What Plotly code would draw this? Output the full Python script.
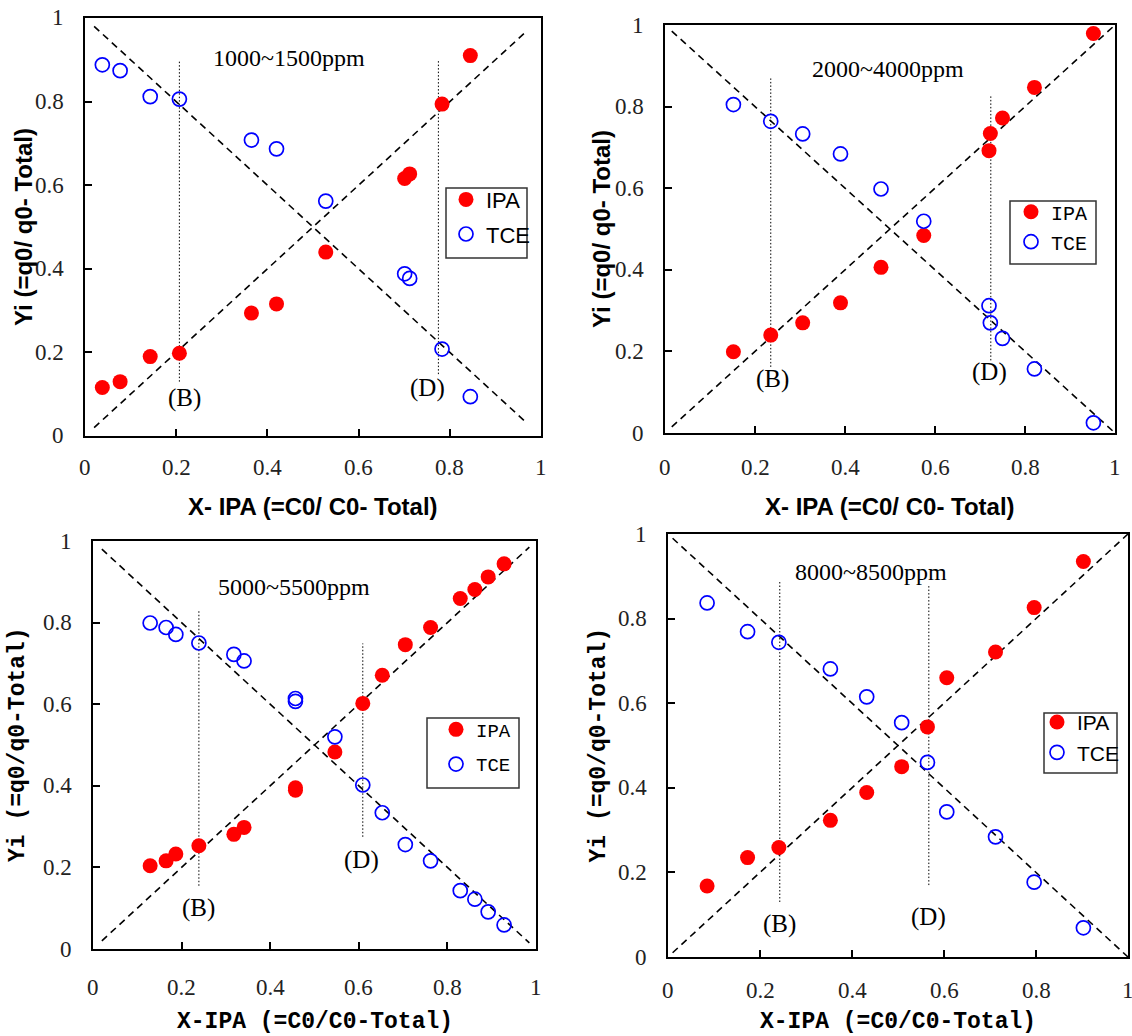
import plotly.graph_objects as go

# ---------------- data: adsorbed-phase fraction vs. gas-phase fraction ----------------
# panel 1 : 1000~1500 ppm
p1_x   = [0.038, 0.077, 0.143, 0.207, 0.365, 0.420, 0.528, 0.701, 0.712, 0.783, 0.845]
p1_ipa = [0.116, 0.130, 0.190, 0.198, 0.294, 0.316, 0.440, 0.616, 0.627, 0.794, 0.910]
p1_tce = [0.888, 0.874, 0.812, 0.806, 0.708, 0.687, 0.562, 0.388, 0.377, 0.208, 0.094]

# panel 2 : 2000~4000 ppm
p2_x   = [0.152, 0.235, 0.306, 0.390, 0.480, 0.575, 0.720, 0.723, 0.750, 0.821, 0.952]
p2_ipa = [0.199, 0.240, 0.270, 0.319, 0.406, 0.484, 0.692, 0.734, 0.772, 0.847, 0.979]
p2_tce = [0.805, 0.764, 0.733, 0.684, 0.598, 0.519, 0.312, 0.270, 0.232, 0.157, 0.025]

# panel 3 : 5000~5500 ppm
p3_x   = [0.129, 0.165, 0.187, 0.239, 0.318, 0.341, 0.457, 0.457, 0.546, 0.609,
          0.653, 0.705, 0.762, 0.829, 0.862, 0.892, 0.928]
p3_ipa = [0.204, 0.216, 0.233, 0.253, 0.281, 0.298, 0.389, 0.395, 0.483, 0.602,
          0.671, 0.746, 0.788, 0.859, 0.881, 0.912, 0.944]
p3_tce = [0.799, 0.788, 0.771, 0.750, 0.722, 0.706, 0.614, 0.607, 0.520, 0.402,
          0.334, 0.256, 0.216, 0.143, 0.122, 0.091, 0.059]

# panel 4 : 8000~8500 ppm
p4_x   = [0.085, 0.173, 0.241, 0.353, 0.432, 0.508, 0.564, 0.606, 0.712, 0.796, 0.903]
p4_ipa = [0.168, 0.235, 0.259, 0.323, 0.389, 0.450, 0.544, 0.660, 0.721, 0.826, 0.935]
p4_tce = [0.837, 0.769, 0.744, 0.681, 0.615, 0.554, 0.460, 0.343, 0.284, 0.177, 0.069]

range_labels = ["1000~1500ppm", "2000~4000ppm", "5000~5500ppm", "8000~8500ppm"]
tick_vals = [0, 0.2, 0.4, 0.6, 0.8, 1]
tick_text = ["0", "0.2", "0.4", "0.6", "0.8", "1"]

# breakthrough markers (B) and (D): x position of each dotted guide
b_x = [0.207, 0.235, 0.239, 0.243]
d_x = [0.775, 0.724, 0.609, 0.567]

# ---------------- layout helpers ----------------
W, H = 1132, 1036
SANS = "Liberation Sans"
SERIF = "Liberation Serif"
MONO = "Liberation Mono"

# frame of each panel in pixels: left, right, top, bottom
frames = [(85, 541, 18, 436), (665, 1115, 25, 433), (93, 536, 541, 949), (668, 1128, 534, 957)]

panels = [
    dict(x=p1_x, ipa=p1_ipa, tce=p1_tce, diag=(0.02, 0.97),
         bline=(0.13, 0.90), dline=(0.148, 0.898), blab=(0.219, 0.092), dlab=(0.75, 0.116),
         title_pos=(0.447, 0.904),
         legbox=(446, 188, 527, 258), legkey=(466, 207), legfont=SANS, legsize=22, leggap=3,
         titlefont=SANS, xt_y=507, yt_x=23, xlab_off=31,
         xtitle="X- IPA (=C0/ C0- Total)", ytitle="Yi (=q0/ q0- Total)"),
    dict(x=p2_x, ipa=p2_ipa, tce=p2_tce, diag=(0.015, 1.0),
         bline=(0.162, 0.869), dline=(0.178, 0.828), blab=(0.239, 0.133), dlab=(0.722, 0.150),
         title_pos=(0.496, 0.892),
         legbox=(1010, 201, 1096, 264), legkey=(1031, 218), legfont=MONO, legsize=20, leggap=1,
         titlefont=SANS, xt_y=507, yt_x=602, xlab_off=34,
         xtitle="X- IPA (=C0/ C0- Total)", ytitle="Yi (=q0/ q0- Total)"),
    dict(x=p3_x, ipa=p3_ipa, tce=p3_tce, diag=(0.02, 0.985),
         bline=(0.155, 0.830), dline=(0.275, 0.749), blab=(0.239, 0.100), dlab=(0.605, 0.218),
         title_pos=(0.454, 0.887),
         legbox=(427, 718, 519, 788), legkey=(456, 735), legfont=MONO, legsize=19, leggap=7,
         titlefont=MONO, xt_y=1022, yt_x=18, xlab_off=38,
         xtitle="X-IPA (=C0/C0-Total)", ytitle="Yi (=q0/q0-Total)"),
    dict(x=p4_x, ipa=p4_ipa, tce=p4_tce, diag=(0.01, 1.0),
         bline=(0.130, 0.891), dline=(0.170, 0.878), blab=(0.243, 0.077), dlab=(0.567, 0.095),
         title_pos=(0.441, 0.910),
         legbox=(1044, 713, 1117, 773), legkey=(1057, 729), legfont=SANS, legsize=21, leggap=0,
         titlefont=MONO, xt_y=1022, yt_x=598, xlab_off=33,
         xtitle="X-IPA (=C0/C0-Total)", ytitle="Yi (=q0/q0-Total)"),
]

fig = go.Figure()
annotations = []
shapes = []
layout = dict(
    template="none",
    width=W, height=H,
    margin=dict(l=0, r=0, t=0, b=0, pad=0),
    paper_bgcolor="white", plot_bgcolor="white",
    showlegend=True,
)

tick_font = dict(family=SERIF, size=23, color="#222")

for i, (p, fr, label) in enumerate(zip(panels, frames, range_labels)):
    n = "" if i == 0 else str(i + 1)
    xa, ya = "x" + n, "y" + n
    leg = "legend" + n
    left, right, top, bottom = fr

    # reference diagonals y = x and y = 1 - x
    d0, d1 = p["diag"]
    for xs, ys in (([d0, d1], [d0, d1]), ([d0, d1], [1 - d0, 1 - d1])):
        fig.add_trace(go.Scatter(x=xs, y=ys, mode="lines", xaxis=xa, yaxis=ya,
                                 line=dict(color="black", width=1.6, dash="7px,5px"),
                                 showlegend=False, hoverinfo="skip", cliponaxis=False))

    # dotted guides for (B) and (D)
    for gx, (g0, g1) in ((b_x[i], p["bline"]), (d_x[i], p["dline"])):
        fig.add_trace(go.Scatter(x=[gx, gx], y=[g0, g1], mode="lines", xaxis=xa, yaxis=ya,
                                 line=dict(color="black", width=1, dash="1.5px,2px"),
                                 showlegend=False, hoverinfo="skip"))

    fig.add_trace(go.Scatter(x=p["x"], y=p["ipa"], mode="markers", name="IPA",
                             xaxis=xa, yaxis=ya, legend=leg, legendgroup="ipa%d" % i,
                             marker=dict(symbol="circle", size=15, color="#ff0000",
                                         line=dict(width=0)),
                             cliponaxis=False))
    fig.add_trace(go.Scatter(x=p["x"], y=p["tce"], mode="markers", name="TCE",
                             xaxis=xa, yaxis=ya, legend=leg, legendgroup="tce%d" % i,
                             marker=dict(symbol="circle-open", size=14, color="#0000ff",
                                         line=dict(width=1.7, color="#0000ff")),
                             cliponaxis=False))

    axis_common = dict(range=[0, 1], showgrid=False, zeroline=False, showline=True,
                       linecolor="black", linewidth=2, mirror=True, ticks="inside",
                       ticklen=7, tickwidth=1.5, tickcolor="black",
                       tickmode="array", tickvals=tick_vals, showticklabels=False,
                       automargin=False, fixedrange=True)
    layout["xaxis" + n] = dict(axis_common, anchor=ya, domain=[left / W, right / W])
    layout["yaxis" + n] = dict(axis_common, anchor=xa, domain=[1 - bottom / H, 1 - top / H])

    # tick labels placed on the axis scale
    for tv, tt in zip(tick_vals, tick_text):
        annotations.append(dict(x=tv, xref=xa, y=1 - (bottom + p["xlab_off"]) / H, yref="paper",
                                text=tt, showarrow=False, xanchor="center", yanchor="middle",
                                font=tick_font))
        annotations.append(dict(x=(left - 19) / W, xref="paper", y=tv, yref=ya,
                                text=tt, showarrow=False, xanchor="right", yanchor="middle",
                                font=tick_font))

    # legend frame drawn as a box, legend entries placed inside it
    bx0, by0, bx1, by1 = p["legbox"]
    shapes.append(dict(type="rect", xref="paper", yref="paper",
                       x0=bx0 / W, x1=bx1 / W, y0=1 - by0 / H, y1=1 - by1 / H,
                       line=dict(color="#333", width=1.5), fillcolor="white", layer="above"))
    kx, ky = p["legkey"]
    layout[leg] = dict(x=(kx - 20) / W, y=1 - (ky - p["legsize"] * 1.29) / H,
                       xanchor="left", yanchor="top", xref="paper", yref="paper",
                       bgcolor="rgba(0,0,0,0)", borderwidth=0,
                       font=dict(family=p["legfont"], size=p["legsize"], color="black"),
                       itemwidth=30, tracegroupgap=p["leggap"])

    # concentration range label
    tx, ty = p["title_pos"]
    annotations.append(dict(x=tx, y=ty, xref=xa, yref=ya, text=label, showarrow=False,
                            font=dict(family=SERIF, size=24, color="black")))
    # (B) and (D) tags
    for txt, (ax_, ay_) in (("(B)", p["blab"]), ("(D)", p["dlab"])):
        annotations.append(dict(x=ax_, y=ay_, xref=xa, yref=ya, text=txt, showarrow=False,
                                font=dict(family=SERIF, size=25, color="black")))

    # axis titles
    bold = p["titlefont"] == SANS
    tsize = 24 if bold else 23
    cx = (left + right) / 2
    cy = (top + bottom) / 2
    annotations.append(dict(x=cx / W, y=1 - p["xt_y"] / H, xref="paper", yref="paper",
                            text="<b>%s</b>" % p["xtitle"], showarrow=False,
                            xanchor="center", yanchor="middle",
                            font=dict(family=p["titlefont"], size=tsize, color="black")))
    annotations.append(dict(x=p["yt_x"] / W, y=1 - cy / H, xref="paper", yref="paper",
                            text="<b>%s</b>" % p["ytitle"], showarrow=False, textangle=-90,
                            xanchor="center", yanchor="middle",
                            font=dict(family=p["titlefont"], size=tsize, color="black")))

layout["annotations"] = annotations
layout["shapes"] = shapes
fig.update_layout(**layout)
fig.write_html("out.html")
